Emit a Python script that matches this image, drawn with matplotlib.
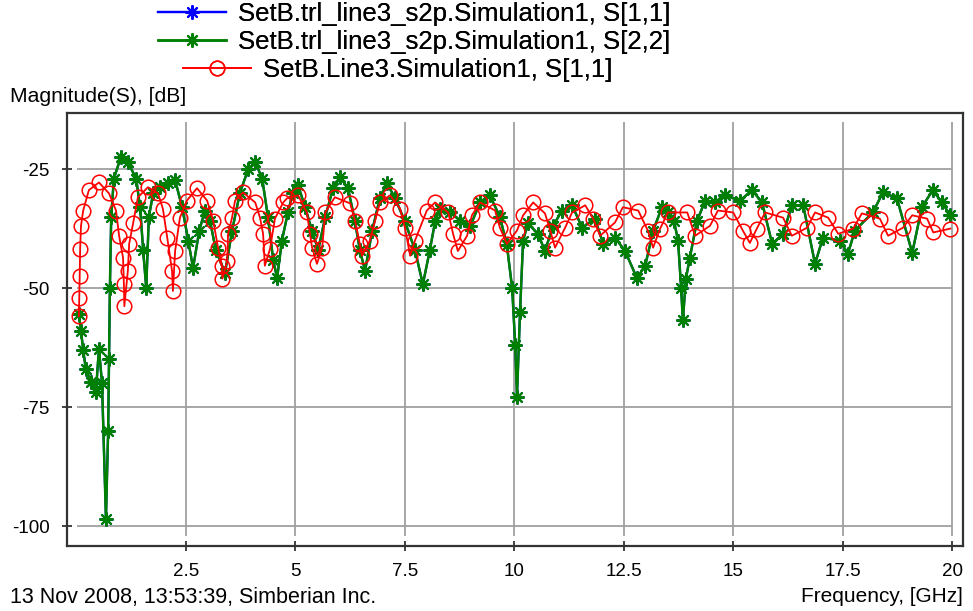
import matplotlib
matplotlib.use("Agg")
import matplotlib.pyplot as plt

plt.rcParams["font.family"] = ["Liberation Sans", "DejaVu Sans"]

# SetB.trl_line3_s2p.Simulation1, S[2,2]  (GHz, dB)
freq_trl = [0.05, 0.10, 0.15, 0.21, 0.33, 0.44, 0.51, 0.58, 0.67, 0.72, 0.74, 0.76,
            0.79, 0.85, 1.01, 1.17, 1.36, 1.45, 1.52, 1.59, 1.65, 1.75, 1.91, 2.09,
            2.25, 2.41, 2.55, 2.66, 2.80, 2.93, 3.05, 3.18, 3.39, 3.55, 3.73, 3.92,
            4.08, 4.24, 4.37, 4.49, 4.58, 4.69, 4.83, 4.94, 5.06, 5.22, 5.38, 5.52,
            5.68, 5.86, 6.02, 6.20, 6.36, 6.47, 6.59, 6.75, 6.93, 7.09, 7.27, 7.50,
            7.73, 7.91, 8.07, 8.19, 8.30, 8.53, 8.76, 8.99, 9.22, 9.44, 9.67, 9.83,
            9.95, 10.02, 10.06, 10.13, 10.20, 10.31, 10.54, 10.70, 10.88, 11.09, 11.32, 11.55,
            11.84, 12.03, 12.30, 12.53, 12.80, 12.99, 13.17, 13.37, 13.51, 13.65, 13.74, 13.81,
            13.85, 13.92, 14.01, 14.17, 14.36, 14.59, 14.81, 15.16, 15.43, 15.66, 15.89, 16.14,
            16.34, 16.60, 16.87, 17.05, 17.44, 17.62, 17.78, 18.19, 18.42, 18.74, 19.09, 19.31,
            19.56, 19.77, 19.96]
s22_trl = [-55.5, -59.0, -63.0, -67.0, -69.7, -71.8, -62.7, -70.0, -98.5, -80.0, -65.0, -50.0,
           -35.0, -27.0, -22.5, -23.5, -27.0, -33.0, -42.0, -50.0, -35.0, -30.0, -28.8, -28.0,
           -27.3, -33.0, -40.0, -45.8, -38.0, -33.7, -36.0, -42.0, -46.8, -38.0, -30.0, -25.0,
           -23.5, -27.0, -35.0, -44.0, -47.9, -40.0, -34.0, -30.0, -28.4, -33.0, -38.0, -42.0,
           -35.0, -29.0, -26.7, -29.0, -36.0, -42.0, -46.4, -38.0, -31.0, -28.0, -31.0, -36.0,
           -42.0, -49.2, -42.0, -36.0, -33.3, -34.0, -35.8, -37.0, -32.0, -30.5, -35.0, -41.0,
           -50.0, -62.0, -72.8, -55.0, -40.0, -36.4, -38.6, -42.2, -37.0, -33.7, -32.6, -37.3,
           -35.4, -40.7, -39.4, -42.2, -47.9, -45.3, -38.0, -33.0, -34.1, -36.0, -40.0, -50.0,
           -56.8, -48.0, -43.6, -36.0, -31.6, -32.0, -30.5, -31.6, -29.4, -32.0, -40.7, -38.6,
           -32.6, -32.6, -44.9, -39.4, -40.0, -42.8, -37.9, -34.1, -29.9, -31.1, -42.6, -33.0,
           -29.4, -32.0, -34.7]
# S[1,1] of the same symmetric line lies exactly under S[2,2]
s11_trl = s22_trl

# SetB.Line3.Simulation1, S[1,1]
freq_line3 = [0.05, 0.06, 0.07, 0.08, 0.10, 0.15, 0.28, 0.51, 0.74, 0.90, 0.97, 1.06,
              1.08, 1.09, 1.17, 1.20, 1.29, 1.40, 1.63, 1.86, 1.97, 2.07, 2.18, 2.20,
              2.25, 2.36, 2.52, 2.75, 2.98, 3.12, 3.23, 3.32, 3.33, 3.44, 3.46, 3.55,
              3.62, 3.80, 4.08, 4.19, 4.26, 4.30, 4.42, 4.53, 4.72, 4.81, 5.06, 5.26,
              5.33, 5.38, 5.49, 5.61, 5.68, 5.90, 6.25, 6.36, 6.47, 6.52, 6.70, 6.82,
              6.93, 7.16, 7.39, 7.50, 7.62, 7.73, 8.00, 8.19, 8.49, 8.60, 8.71, 8.92,
              9.03, 9.22, 9.56, 9.67, 9.83, 10.06, 10.20, 10.43, 10.70, 10.82, 10.93, 11.16,
              11.32, 11.62, 11.80, 11.96, 12.30, 12.48, 12.83, 13.05, 13.17, 13.33, 13.51, 13.95,
              14.13, 14.47, 14.65, 15.00, 15.22, 15.38, 15.54, 15.73, 16.14, 16.34, 16.69, 16.87,
              17.17, 17.40, 17.74, 17.94, 18.35, 18.54, 18.88, 19.09, 19.43, 19.57, 19.96]
s11_line3 = [-55.9, -52.1, -47.5, -41.8, -36.9, -33.7, -29.4, -27.8, -30.1, -33.7, -39.0, -43.6,
             -49.2, -53.8, -46.4, -40.7, -36.4, -30.9, -28.8, -30.1, -33.3, -39.4, -46.4, -50.6,
             -42.2, -35.2, -31.6, -29.0, -31.6, -35.8, -41.5, -45.3, -48.0, -44.3, -38.6, -35.2,
             -31.6, -29.9, -32.0, -35.2, -38.6, -45.3, -41.7, -35.4, -32.0, -31.1, -30.5, -34.1,
             -38.6, -41.5, -44.9, -41.5, -34.1, -30.9, -32.2, -35.8, -40.7, -43.2, -40.0, -35.8,
             -32.0, -30.5, -33.3, -37.3, -43.2, -40.0, -33.7, -32.0, -34.1, -38.6, -42.2, -39.0,
             -34.7, -32.0, -33.7, -37.3, -40.7, -37.9, -34.7, -32.0, -34.3, -37.9, -41.5, -37.3,
             -34.1, -32.6, -35.4, -39.0, -36.2, -33.0, -33.7, -37.9, -41.5, -37.5, -34.1, -34.1,
             -39.0, -36.9, -33.7, -34.1, -37.9, -40.5, -37.5, -34.1, -35.2, -39.0, -37.3, -34.1,
             -35.2, -38.6, -37.5, -34.3, -35.4, -39.0, -37.3, -34.7, -35.4, -38.3, -37.5]

xticks = [2.5, 5, 7.5, 10, 12.5, 15, 17.5, 20]
xtick_labels = ["2.5", "5", "7.5", "10", "12.5", "15", "17.5", "20"]
yticks = [-25, -50, -75, -100]
ytick_labels = ["-25", "-50", "-75", "-100"]
legend_labels = ["SetB.trl_line3_s2p.Simulation1, S[1,1]",
                 "SetB.trl_line3_s2p.Simulation1, S[2,2]",
                 "SetB.Line3.Simulation1, S[1,1]"]

W, H = 973, 611
fig = plt.figure(figsize=(W / 100, H / 100), dpi=100)
ax = fig.add_axes([67 / W, 1 - 546 / H, 896 / W, 433 / H])
ax.set_xlim(-0.22, 20.25)
ax.set_ylim(-104.2, -13.2)

# grid only covers the data window
ax.vlines(xticks, -102, -15, colors="#a0a0a0", lw=1.3, zorder=0)
ax.hlines(yticks, 0, 20, colors="#a0a0a0", lw=1.3, zorder=0)

star = (8, 2, 0)
l1, = ax.plot(freq_trl, s11_trl, color="#0000ff", lw=1.6, marker=star,
              ms=10, mew=1.4, zorder=2)
l2, = ax.plot(freq_trl, s22_trl, color="#008000", lw=1.8, marker=star,
              ms=10, mew=1.4, zorder=3)
l3, = ax.plot(freq_line3, s11_line3, color="#ff0000", lw=1.3, marker="o",
              ms=10.5, mfc="none", mew=1.1, zorder=4)

ax.set_xticks(xticks, xtick_labels)
ax.set_yticks(yticks, ytick_labels)
ax.tick_params(direction="inout", length=7, width=1.2, labelsize=13.5, color="#222222")
ax.tick_params(axis="x", pad=9)
ax.tick_params(axis="y", pad=9)
for s in ax.spines.values():
    s.set_linewidth(1.6)
    s.set_color("#333333")

# legend: three stacked entries above the plot
rows = [(l1, 158, 14), (l2, 158, 42), (l3, 183, 70)]
for (h, x0, y0), lab in zip(rows, legend_labels):
    leg = fig.legend([h], [lab], loc="center left",
                     bbox_to_anchor=(x0 / W, 1 - y0 / H), frameon=False,
                     fontsize=18.5, handlelength=2.65, handletextpad=0.45,
                     borderpad=0, borderaxespad=0, markerscale=1.0)
    fig.add_artist(leg)

fig.text(10 / W, 1 - 97 / H, "Magnitude(S), [dB]", fontsize=15.2, va="center", ha="left")
fig.text(10 / W, 1 - 597 / H, "13 Nov 2008, 13:53:39, Simberian Inc.", fontsize=15.5,
         va="center", ha="left")
fig.text(963 / W, 1 - 597 / H, "Frequency, [GHz]", fontsize=15, va="center", ha="right")

fig.savefig("out.png", dpi=100)
